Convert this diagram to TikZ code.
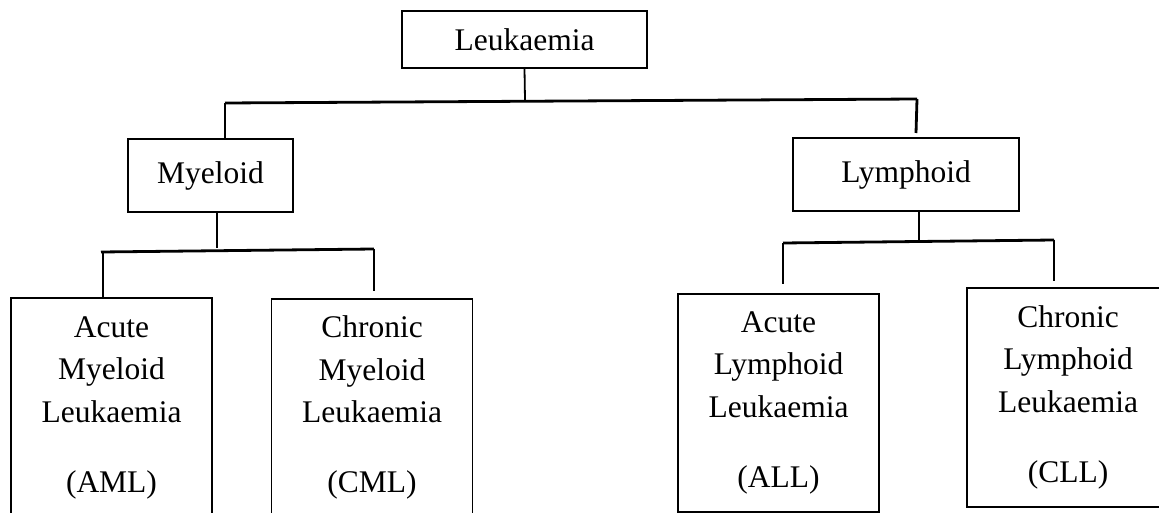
\documentclass[tikz,border=0pt]{standalone}
\usepackage{fontspec}
\setmainfont{Liberation Serif}
\usetikzlibrary{positioning}
\tikzset{
  tbox/.style={draw, line width=1.8pt, inner sep=0pt, align=center,
               font=\fontsize{31.5}{42.5}\selectfont},
  leafbox/.style={tbox, anchor=north, minimum width=201pt},
  link/.style={line width=2.8pt},
}

\begin{document}
\begin{tikzpicture}[x=1pt, y=-1pt]
  \useasboundingbox (0,0) rectangle (1159,513);
  % top level
  \node[tbox, minimum width=245pt, minimum height=57pt] (leuk) at (524.5,39.5) {Leukaemia};
  \node[tbox, minimum width=165pt, minimum height=73pt] (myel) at (210.5,175.5) {Myeloid};
  \node[tbox, minimum width=226pt, minimum height=73pt] (lymph) at (906,174.5) {Lymphoid};
  % leaves
  \node[leafbox, minimum height=220pt] (aml) at (111.5,297) {Acute\\Myeloid\\Leukaemia\\[27.5pt](AML)};
  \node[leafbox, minimum height=218pt] (cml) at (372,298) {Chronic\\Myeloid\\Leukaemia\\[27.5pt](CML)};
  \node[leafbox, minimum height=218pt] (all) at (778.5,293) {Acute\\Lymphoid\\Leukaemia\\[27.5pt](ALL)};
  \node[leafbox, minimum height=219pt, minimum width=202pt] (cll) at (1068,287) {Chronic\\Lymphoid\\Leukaemia\\[27.5pt](CLL)};
  % joints
  \coordinate (t0) at (525,100);
  \coordinate (tL) at (225,103);
  \coordinate (tR) at (917,99);
  \coordinate (tRe) at (916,133);
  \coordinate (m0) at (217,248);
  \coordinate (mL) at (101,252);
  \coordinate (mR) at (374,249);
  \coordinate (mRe) at (374,291);
  \coordinate (l0) at (919,243);
  \coordinate (lL) at (783,243);
  \coordinate (lR) at (1054,240);
  \coordinate (lLe) at (783,284);
  \coordinate (lRe) at (1054,281);
  % connectors
  \draw[line width=1.8pt] (leuk.south) -- (t0);
  \draw[link] (tL) -- (tR);
  \draw[link] (tL) -- (tL |- myel.north);
  \draw[link] (tR) -- (tRe);
  \draw[link] (m0 |- myel.south) -- (m0);
  \draw[link] (mL) -- (mR);
  \draw[link] ([xshift=2pt]mL) -- ([xshift=2pt]mL |- aml.north);
  \draw[link] (mR) -- (mRe);
  \draw[link] (l0 |- lymph.south) -- (l0);
  \draw[link] (lL) -- (lR);
  \draw[link] (lL) -- (lLe);
  \draw[link] (lR) -- (lRe);
\end{tikzpicture}
\end{document}
